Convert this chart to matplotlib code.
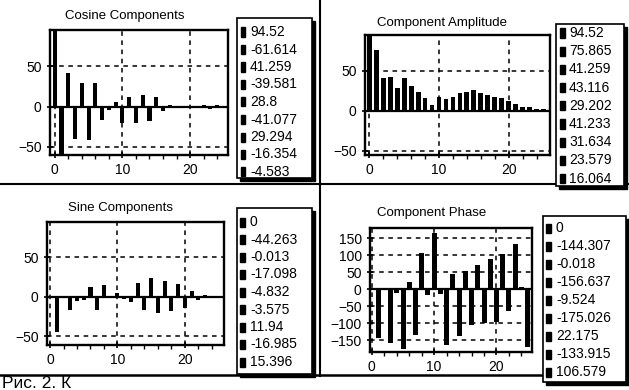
import numpy as np
import matplotlib
matplotlib.use('Agg')
import matplotlib.pyplot as plt
from matplotlib.patches import Rectangle
from matplotlib.lines import Line2D

plt.rcParams['font.family'] = ['Liberation Sans', 'DejaVu Sans']

# harmonic number 0..25
harm = list(range(26))

cos_vals = [94.52, -61.614, 41.259, -39.581, 28.8, -41.077, 29.294, -16.354, -4.583,
            6, -20, 12, -20, 15, -18, 12, -6, 2, -2, -1, -1, -2, 2, -3, 2, -2]
sin_vals = [0, -44.263, -0.013, -17.098, -4.832, -3.575, 11.94, -16.985, 15.396,
            -2, 5, -3, -6, 18, -17, 24, -21, 20, -18, 16, -14, 8, -4, 3, 0.2, -0.4]
amp_vals = [94.52, 75.865, 41.259, 43.116, 29.202, 41.233, 31.634, 23.579, 16.064,
            8, 18, 15, 18, 22, 24, 26, 22, 20, 18, 16, 13, 9, 5, 4.5, 2.5, 2]
phase_vals = [0, -144.307, -0.018, -156.637, -9.524, -175.026, 22.175, -133.915, 106.579,
              -18, 166, -14, -163, 45, -136, 55, -106, 72, -100, 90, -97, 104, -63, 133, 6, -169]

W, H = 629, 390
fig = plt.figure(figsize=(W / 100, H / 100), dpi=100)


def px_axes(l, t, r, b):
    return fig.add_axes([l / W, 1 - b / H, (r - l) / W, (b - t) / H])


def fx(x):
    return x / W


def fy(y):
    return 1 - y / H


def bar_panel(box, vals, xlim, ylim, yticks, width, title, title_xy):
    ax = px_axes(*box)
    ax.bar(harm, vals, width=width, color='black', zorder=3)
    ax.axhline(0, color='black', lw=1.6, zorder=4)
    ax.set_xlim(*xlim)
    ax.set_ylim(*ylim)
    ax.set_xticks([0, 10, 20])
    ax.set_xticks(np.arange(0, 26, 2), minor=True)
    ax.set_yticks(yticks)
    ax.grid(True, ls=(0, (3, 3)), color='black', lw=1.1)
    ax.tick_params(axis='both', labelsize=10, direction='inout', length=5, width=1.2)
    ax.tick_params(axis='x', which='minor', direction='out', length=3, width=1.0)
    for s in ax.spines.values():
        s.set_linewidth(1.7)
    fig.text(fx(title_xy[0]), fy(title_xy[1]), title, ha='center', va='center', fontsize=9.5)
    return ax


def legend_box(l, t, r, b, vals, row0, dy, mx, tx):
    fig.patches.append(Rectangle((fx(l + 3), fy(b + 3)), fx(r - l), (b - t) / H,
                                 transform=fig.transFigure, color='black', zorder=1))
    fig.patches.append(Rectangle((fx(l), fy(b)), fx(r - l), (b - t) / H,
                                 transform=fig.transFigure, facecolor='white',
                                 edgecolor='black', lw=1.2, zorder=2))
    for i, v in enumerate(vals[:9]):
        y = row0 + i * dy
        fig.patches.append(Rectangle((fx(mx), fy(y + 4.5)), fx(4.5), 9 / H,
                                     transform=fig.transFigure, color='black', zorder=3))
        fig.text(fx(tx), fy(y), str(v), ha='left', va='center', fontsize=10, zorder=4)


bar_panel((50, 30, 228, 155), cos_vals, (-0.7, 25.6), (-60, 95), [-50, 0, 50], 0.6,
          'Cosine Components', (125, 16))
bar_panel((365, 35, 550, 155), amp_vals, (-0.6, 25.9), (-55, 95), [-50, 0, 50], 0.7,
          'Component Amplitude', (442, 23))
bar_panel((47, 222, 224, 345), sin_vals, (-0.45, 25.8), (-61, 95), [-50, 0, 50], 0.6,
          'Sine Components', (121, 208))
bar_panel((370, 228, 532, 352), phase_vals, (-0.3, 25.7), (-184, 180),
          [-150, -100, -50, 0, 50, 100, 150], 0.8, 'Component Phase', (432, 213))

legend_box(237, 18, 312, 178, cos_vals, 32, 17.5, 241, 250)
legend_box(556, 24, 624, 186, amp_vals, 33, 18.2, 560, 569)
legend_box(237, 208, 312, 374, sin_vals, 222, 17.5, 240, 250)
legend_box(543, 216, 626, 382, phase_vals, 228, 18.0, 546, 556)

# panel separators of the scanned page
fig.lines.append(Line2D([fx(320), fx(320)], [fy(0), fy(376)], transform=fig.transFigure,
                        color='black', lw=1.5))
fig.lines.append(Line2D([fx(0), fx(629)], [fy(184), fy(184)], transform=fig.transFigure,
                        color='black', lw=1.5))
fig.lines.append(Line2D([fx(0), fx(615)], [fy(375), fy(375)], transform=fig.transFigure,
                        color='black', lw=1.8))

fig.text(fx(2), fy(376), 'Рис. 2. К', ha='left', va='top', fontsize=12.5)

fig.savefig('out.png', dpi=100)
